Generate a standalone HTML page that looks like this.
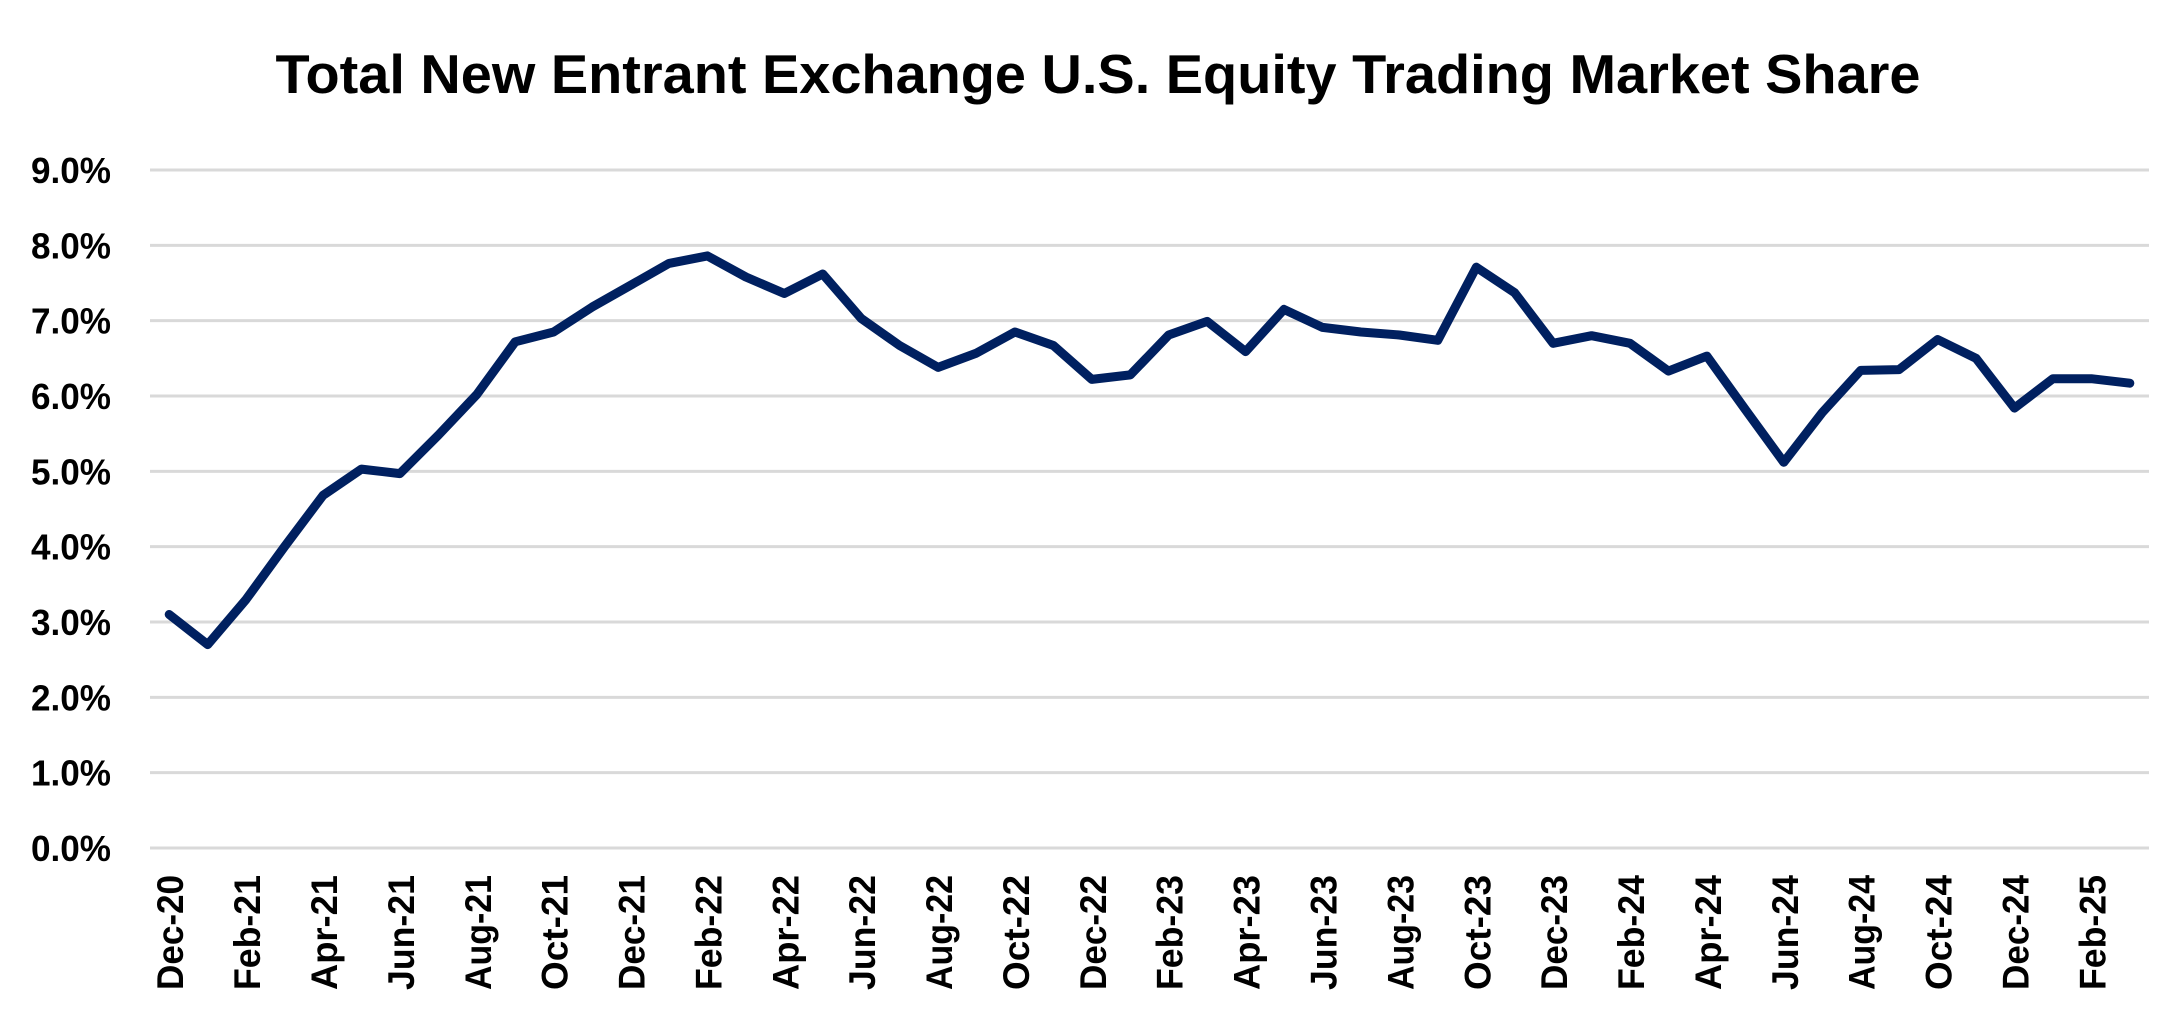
<!DOCTYPE html>
<html><head><meta charset="utf-8"><style>
html,body{margin:0;padding:0;background:#fff;}
svg{display:block;}
</style></head><body>
<svg id="chart" width="2171" height="1025" xmlns="http://www.w3.org/2000/svg">
<text x="1098" y="93" text-anchor="middle" font-family="'Liberation Sans', sans-serif" font-weight="bold" font-size="55" textLength="1645" lengthAdjust="spacingAndGlyphs">Total New Entrant Exchange U.S. Equity Trading Market Share</text>
<g id="grid"></g>
<g id="yaxis"></g>
<g id="xaxis"></g>
<g id="series"></g>
</svg>
<script>
const yTicks = [0,1,2,3,4,5,6,7,8,9];
const yTickLabels = ["0.0%","1.0%","2.0%","3.0%","4.0%","5.0%","6.0%","7.0%","8.0%","9.0%"];
const months = ["Dec-20","Jan-21","Feb-21","Mar-21","Apr-21","May-21","Jun-21","Jul-21","Aug-21","Sep-21","Oct-21","Nov-21","Dec-21","Jan-22","Feb-22","Mar-22","Apr-22","May-22","Jun-22","Jul-22","Aug-22","Sep-22","Oct-22","Nov-22","Dec-22","Jan-23","Feb-23","Mar-23","Apr-23","May-23","Jun-23","Jul-23","Aug-23","Sep-23","Oct-23","Nov-23","Dec-23","Jan-24","Feb-24","Mar-24","Apr-24","May-24","Jun-24","Jul-24","Aug-24","Sep-24","Oct-24","Nov-24","Dec-24","Jan-25","Feb-25","Mar-25"];
const shareValues = [3.1,2.7,3.3,4.0,4.68,5.03,4.97,5.48,6.02,6.72,6.85,7.18,7.47,7.76,7.86,7.58,7.36,7.62,7.03,6.67,6.38,6.57,6.85,6.67,6.22,6.28,6.81,6.99,6.59,7.15,6.91,6.85,6.81,6.74,7.71,7.37,6.70,6.80,6.70,6.33,6.53,5.82,5.12,5.78,6.34,6.35,6.75,6.50,5.84,6.23,6.23,6.17];

const NS="http://www.w3.org/2000/svg";
const L=150,R=2149,T=170,B=848,yMax=9;
const n=months.length, step=(R-L)/n;
const x=i=>L+step*(i+0.5);
const y=v=>B-(v/yMax)*(B-T);
function mk(tag,attrs,parent){const e=document.createElementNS(NS,tag);for(const k in attrs)e.setAttribute(k,attrs[k]);parent.appendChild(e);return e;}
const grid=document.getElementById('grid'),ya=document.getElementById('yaxis'),xa=document.getElementById('xaxis'),ser=document.getElementById('series');
yTicks.forEach((t,i)=>{
  const g=mk('line',{x1:L,x2:R,y1:y(t),y2:y(t),stroke:'#d9d9d9','stroke-width':3},grid);
  
  
  const tx=mk('text',{x:111,y:y(t)+13,'text-anchor':'end','font-family':"'Liberation Sans', sans-serif",'font-weight':'bold','font-size':36,textLength:80,lengthAdjust:'spacingAndGlyphs'},ya);
  tx.textContent=yTickLabels[i];
  
  
});
months.forEach((m,i)=>{
  if(i%2) return;
  const tx=mk('text',{transform:`translate(${x(i)+14},875) rotate(-90)`,'text-anchor':'end','font-family':"'Liberation Sans', sans-serif",'font-weight':'bold','font-size':37,textLength:115,lengthAdjust:'spacingAndGlyphs'},xa);
  tx.textContent=m;
  
  
});
const pts=shareValues.map((v,i)=>x(i).toFixed(1)+','+y(v).toFixed(1)).join(' ');
const pl=mk('polyline',{points:pts,fill:'none',stroke:'#002060','stroke-width':9,'stroke-linejoin':'round','stroke-linecap':'round'},ser);


</script>
</body></html>
